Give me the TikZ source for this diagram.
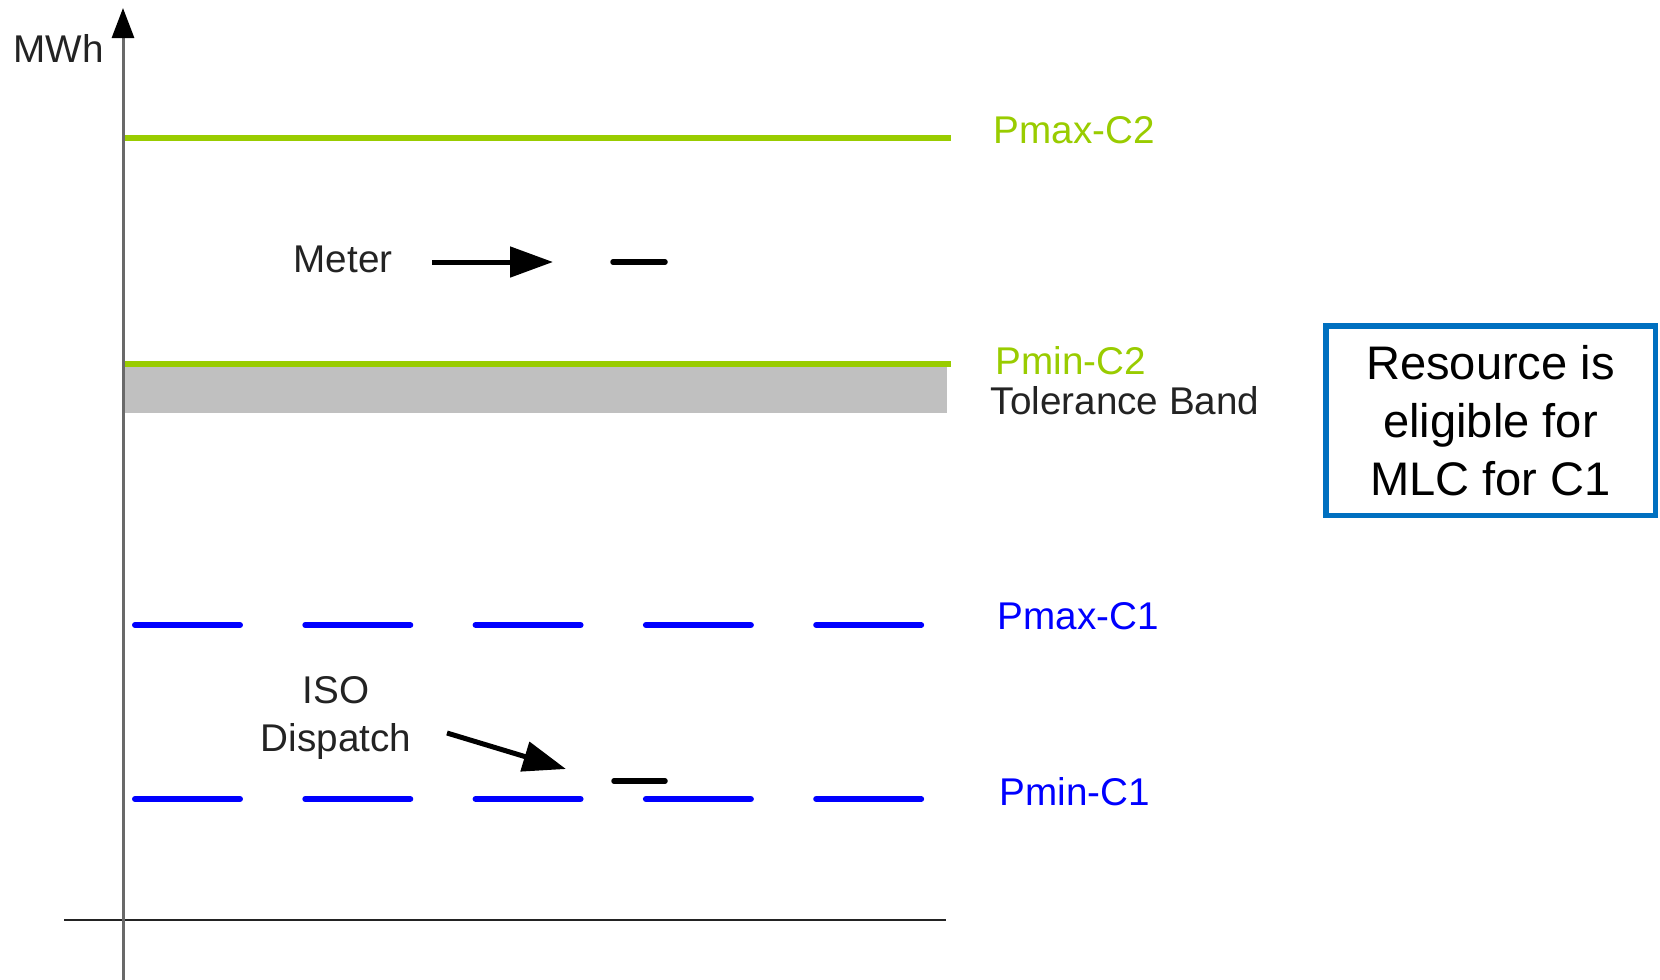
\documentclass[tikz,border=0pt]{standalone}
\usepackage{fontspec}
\setmainfont{Liberation Sans}
\usetikzlibrary{arrows.meta}
\definecolor{cgreen}{RGB}{153,204,0}
\definecolor{cblue}{RGB}{0,0,255}
\definecolor{bandgray}{RGB}{192,192,192}
\definecolor{boxblue}{RGB}{0,112,192}
\definecolor{inkgray}{RGB}{35,35,35}
\definecolor{axisgray}{RGB}{105,105,105}
\begin{document}
\begin{tikzpicture}[x=0.1mm,y=-0.1mm,
	lbl/.style={inner sep=0,anchor=base west,text=inkgray,font=\fontsize{11pt}{13.6pt}\selectfont},
	c2line/.style={cgreen,line width=0.55mm},
	c1line/.style={cblue,line width=0.6mm,line cap=round,dash pattern=on 10.5mm off 6.53mm},
	readout/.style={black,line width=0.55mm,line cap=round},
	pointer/.style={-{Triangle[length=4.3mm,width=3mm]},black,line width=0.5mm}]
	\useasboundingbox (0,0) rectangle (1660,980);
	\coordinate (ybot) at (123,980);
	\coordinate (ytop) at (123,8);
	\coordinate (xleft) at (64,920);
	\coordinate (xright) at (946,920);
	\fill[bandgray] (125,366) rectangle (947,413);
	\draw[c2line] (123,138) -- (951,138);
	\draw[c2line] (123,364) -- (951,364);
	\draw[c1line] (135,625) -- (922,625);
	\draw[c1line] (135,799) -- (922,799);
	\draw[inkgray,line width=0.25mm] (xleft) -- (xright);
	\draw[axisgray,line width=0.3mm,-{Triangle[length=3mm,width=2.2mm,color=black]}] (ybot) -- (ytop);
	\node[lbl] (mwh) at (13,62) {MWh};
	\node[lbl,text=cgreen] (pmaxc2) at (993,143) {Pmax-C2};
	\node[lbl,text=cgreen] (pminc2) at (995,374) {Pmin-C2};
	\node[lbl] (band) at (990,414) {Tolerance Band};
	\node[lbl,text=cblue] (pmaxc1) at (997,629) {Pmax-C1};
	\node[lbl,text=cblue] (pminc1) at (999,805) {Pmin-C1};
	\node[lbl] (meter) at (293,272) {Meter};
	\node[lbl,anchor=center,align=center] (iso) at (336,718) {ISO\\Dispatch};
	\coordinate (metertail) at (432,262);
	\coordinate (meterhead) at (553,262);
	\coordinate (isotail) at (447,733);
	\coordinate (isohead) at (566,769);
	\draw[pointer] (metertail) -- (meterhead);
	\draw[pointer] (isotail) -- (isohead);
	\draw[readout] (613,262) -- (665,262);
	\draw[readout] (614,781) -- (665,781);
	\node[draw=boxblue,line width=0.55mm,minimum width=32.95mm,minimum height=18.95mm,inner sep=0,
		align=center,font=\fontsize{13.4pt}{16.5pt}\selectfont] (mlcbox) at (1490.5,420.5)
		{Resource is\\eligible for\\MLC for C1};
\end{tikzpicture}
\end{document}
